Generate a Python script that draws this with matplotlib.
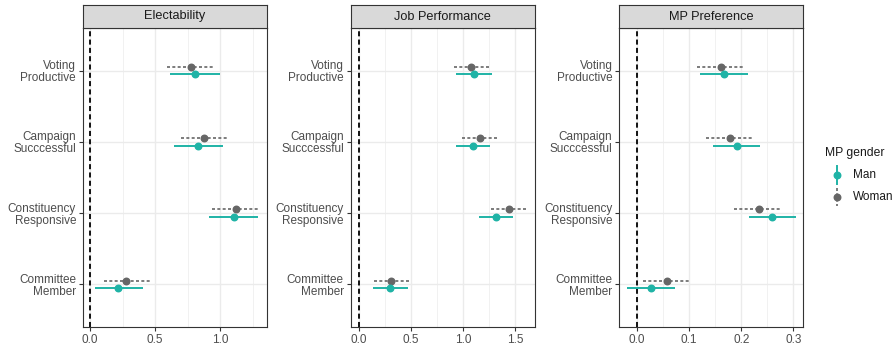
import numpy as np
import matplotlib.pyplot as plt
from matplotlib.lines import Line2D

plt.rcParams['font.family'] = ['Liberation Sans', 'DejaVu Sans']

categories = ["Committee\nMember", "Constituency\nResponsive", "Campaign\nSucccessful", "Voting\nProductive"]
panels = ["Electability", "Job Performance", "MP Preference"]
genders = ["Man", "Woman"]

# point estimates and 95% intervals, ordered as in `categories`
man_est = {
    "Electability":    [0.218, 1.103, 0.831, 0.805],
    "Job Performance": [0.296, 1.315, 1.092, 1.102],
    "MP Preference":   [0.027, 0.259, 0.191, 0.166],
}
man_lo = {
    "Electability":    [0.038, 0.918, 0.646, 0.615],
    "Job Performance": [0.131, 1.150, 0.927, 0.933],
    "MP Preference":   [-0.019, 0.214, 0.145, 0.121],
}
man_hi = {
    "Electability":    [0.405, 1.290, 1.021, 0.995],
    "Job Performance": [0.468, 1.481, 1.261, 1.277],
    "MP Preference":   [0.072, 0.305, 0.236, 0.212],
}
woman_est = {
    "Electability":    [0.279, 1.118, 0.879, 0.774],
    "Job Performance": [0.309, 1.436, 1.159, 1.073],
    "MP Preference":   [0.058, 0.234, 0.178, 0.161],
}
woman_lo = {
    "Electability":    [0.105, 0.941, 0.697, 0.590],
    "Job Performance": [0.140, 1.268, 0.984, 0.908],
    "MP Preference":   [0.012, 0.187, 0.132, 0.116],
}
woman_hi = {
    "Electability":    [0.459, 1.300, 1.059, 0.956],
    "Job Performance": [0.478, 1.608, 1.331, 1.245],
    "MP Preference":   [0.101, 0.277, 0.223, 0.205],
}

xlims = {
    "Electability": (-0.054, 1.36),
    "Job Performance": (-0.08, 1.685),
    "MP Preference": (-0.034, 0.319),
}
xticks = {
    "Electability": [0.0, 0.5, 1.0],
    "Job Performance": [0.0, 0.5, 1.0, 1.5],
    "MP Preference": [0.0, 0.1, 0.2, 0.3],
}
xtick_labels = {
    "Electability": ["0.0", "0.5", "1.0"],
    "Job Performance": ["0.0", "0.5", "1.0", "1.5"],
    "MP Preference": ["0.0", "0.1", "0.2", "0.3"],
}

MAN_COL = "#1FB3A6"
WOMAN_COL = "#666666"
GRID = "#EBEBEB"
BORDER = "#333333"
TXT = "#4D4D4D"

MAN_LS = "-"
WOMAN_LS = (0, (1.8, 1.4))
MS = 4.7

W, H = 896, 349
fig = plt.figure(figsize=(W / 100, H / 100), dpi=100)

lefts = [83, 350.7, 619.3]
panel_w = 184
ax_top, ax_bot = 28, 327
strip_top = 5

y = np.arange(1, len(categories) + 1)
dodge = 0.052

for name, left in zip(panels, lefts):
    ax = fig.add_axes([left / W, 1 - ax_bot / H, panel_w / W, (ax_bot - ax_top) / H])
    ax.set_xlim(*xlims[name])
    ax.set_ylim(0.4, len(categories) + 0.6)

    # grid: major + minor verticals, major horizontals
    ticks = xticks[name]
    step = ticks[1] - ticks[0]
    minors = np.arange(ticks[0] - step / 2, xlims[name][1], step)
    for m in minors:
        ax.axvline(m, color=GRID, lw=0.5, zorder=0)
    for t in ticks:
        ax.axvline(t, color=GRID, lw=1.0, zorder=0)
    for yy in y:
        ax.axhline(yy, color=GRID, lw=1.0, zorder=0)

    ax.axvline(0, color="black", lw=1.3, ls=(0, (2.8, 1.8)), zorder=1)

    # woman estimates (dashed, upper)
    ax.hlines(y + dodge, woman_lo[name], woman_hi[name], color=WOMAN_COL,
              lw=1.2, ls=WOMAN_LS, zorder=2)
    ax.plot(woman_est[name], y + dodge, "o", color=WOMAN_COL, ms=MS, zorder=3)
    # man estimates (solid, lower)
    ax.hlines(y - dodge, man_lo[name], man_hi[name], color=MAN_COL, lw=1.4, zorder=2)
    ax.plot(man_est[name], y - dodge, "o", color=MAN_COL, ms=MS, zorder=3)

    ax.set_xticks(ticks)
    ax.set_xticklabels(xtick_labels[name])
    ax.set_yticks(y)
    ax.set_yticklabels(categories, linespacing=1.0)
    ax.tick_params(axis="both", colors=BORDER, labelcolor=TXT, labelsize=8.5,
                   length=2.8, width=0.8, pad=2.2)
    for s in ax.spines.values():
        s.set_color(BORDER)
        s.set_linewidth(0.8)

    # facet strip
    sax = fig.add_axes([left / W, 1 - ax_top / H, panel_w / W, (ax_top - strip_top) / H])
    sax.set_facecolor("#D9D9D9")
    sax.set_xticks([])
    sax.set_yticks([])
    for s in sax.spines.values():
        s.set_color(BORDER)
        s.set_linewidth(0.8)
    sax.text(0.5, 0.5, name, ha="center", va="center", fontsize=9.2,
             color="#1A1A1A", transform=sax.transAxes)

# legend, drawn as pointrange keys in pixel coordinates
lax = fig.add_axes([0, 0, 1, 1])
lax.set_xlim(0, W)
lax.set_ylim(H, 0)
lax.axis("off")
lax.text(825, 153, "MP gender", fontsize=8.7, color="#1A1A1A", ha="left", va="center")
key_styles = {"Man": (MAN_COL, MAN_LS, 1.4), "Woman": (WOMAN_COL, WOMAN_LS, 1.2)}
for i, g in enumerate(genders):
    col, ls, lw = key_styles[g]
    ky = 175 + 22 * i
    lax.add_line(Line2D([836.7, 836.7], [ky - 9, ky + 9], color=col, ls=ls, lw=lw))
    lax.plot([836.7], [ky], "o", color=col, ms=MS)
    lax.text(853, ky, g, fontsize=8.5, color="#1A1A1A", ha="left", va="center")

fig.savefig("out.png", dpi=100)
